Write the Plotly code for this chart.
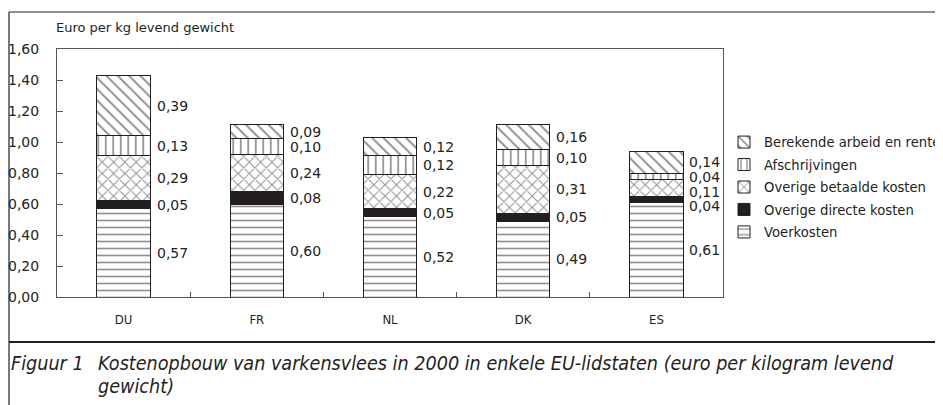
import plotly.graph_objects as go

countries = ["DU", "FR", "NL", "DK", "ES"]
voerkosten = [0.57, 0.60, 0.52, 0.49, 0.61]
overige_directe = [0.05, 0.08, 0.05, 0.05, 0.04]
overige_betaalde = [0.29, 0.24, 0.22, 0.31, 0.11]
afschrijvingen = [0.13, 0.10, 0.12, 0.10, 0.04]
berekende = [0.39, 0.09, 0.12, 0.16, 0.14]

series = [
    ("Voerkosten", voerkosten, "-", 7, "white", 5),
    ("Overige directe kosten", overige_directe, "", 8, "#231f20", 4),
    ("Overige betaalde kosten", overige_betaalde, "x", 8, "white", 3),
    ("Afschrijvingen", afschrijvingen, "|", 7.5, "white", 2),
    ("Berekende arbeid en rente", berekende, "\\", 8, "white", 1),
]

# page body has an 8px margin; the figure is drawn offset by it
OFF = 8
W, H = 943 - OFF, 405 - OFF
L, T = 57 - OFF, 49 - OFF
PW, PH = 723 - 57, 297 - 49
R, B = W - L - PW, H - T - PH


def px(x):
    return (x - OFF - L) / PW


def py(y):
    return (T + PH - (y - OFF)) / PH


ink = "#231f20"
fig = go.Figure()
for name, vals, shape, size, bg, rank in series:
    fig.add_trace(go.Bar(
        x=countries, y=vals, name=name, legendgroup=name, legendrank=rank,
        marker=dict(
            color=bg,
            line=dict(color=ink, width=1),
            pattern=dict(shape=shape, fgcolor=ink, bgcolor=bg,
                         size=size, solidity=0.23, fillmode="overlay"),
        ),
        hoverinfo="skip",
    ))

# value labels to the right of each segment, spread apart where crowded
annotations = []
min_gap = 0.095
for i, c in enumerate(countries):
    base = 0.0
    mids = []
    for name, vals, *_ in series:
        v = vals[i]
        mids.append((base + v / 2, v))
        base += v
    prev = None
    for mid, v in reversed(mids):
        yv = mid if prev is None else min(mid, prev - min_gap)
        prev = yv
        annotations.append(dict(
            x=c, y=yv, xref="x", yref="y", text=f"{v:.2f}".replace(".", ","),
            showarrow=False, xanchor="left", yanchor="middle", xshift=32,
            font=dict(family="DejaVu Sans", size=14, color=ink),
            borderpad=0,
        ))

annotations.append(dict(
    x=px(54), y=py(28), xref="paper", yref="paper", text="Euro per kg levend gewicht",
    showarrow=False, xanchor="left", yanchor="middle",
    font=dict(family="DejaVu Sans", size=13, color=ink),
))

cap_font = dict(family="DejaVu Sans Condensed, sans-serif", size=19.6, color=ink)
annotations.append(dict(
    x=px(10), y=py(364), xref="paper", yref="paper", text="<i>Figuur 1</i>",
    showarrow=False, xanchor="left", yanchor="middle", font=cap_font, borderpad=0,
))
annotations.append(dict(
    x=px(97), y=py(364), xref="paper", yref="paper",
    text="<i>Kostenopbouw van varkensvlees in 2000 in enkele EU-lidstaten (euro per kilogram levend</i>",
    showarrow=False, xanchor="left", yanchor="middle", font=cap_font, borderpad=0,
))
annotations.append(dict(
    x=px(97), y=py(386), xref="paper", yref="paper",
    text="<i>gewicht)</i>",
    showarrow=False, xanchor="left", yanchor="middle", font=cap_font, borderpad=0,
))

shapes = [
    dict(type="line", xref="paper", yref="paper", x0=px(9), x1=px(960), y0=py(12), y1=py(12),
         line=dict(color=ink, width=1.2)),
    dict(type="line", xref="paper", yref="paper", x0=px(9), x1=px(9), y0=py(12), y1=py(420),
         line=dict(color=ink, width=1.2)),
    dict(type="line", xref="paper", yref="paper", x0=px(9), x1=px(960), y0=py(342), y1=py(342),
         line=dict(color=ink, width=2.2)),
]

fig.update_layout(
    width=W, height=H,
    margin=dict(l=L, r=R, t=T, b=B, autoexpand=False),
    barmode="stack", bargap=0.6,
    separators=",.",
    paper_bgcolor="white", plot_bgcolor="white",
    showlegend=True,
    legend=dict(
        x=px(724), y=py(127), xanchor="left", yanchor="top",
        traceorder="grouped", tracegroupgap=2.3,
        font=dict(family="DejaVu Sans", size=13.2, color=ink),
        bgcolor="rgba(0,0,0,0)",
    ),
    xaxis=dict(
        showline=True, linecolor="#555555", linewidth=1, mirror=True,
        ticks="inside", tickson="boundaries", ticklen=5, tickcolor="#555555",
        tickfont=dict(family="DejaVu Sans Condensed", size=13, color=ink),
        ticklabelstandoff=10, showgrid=False, fixedrange=True,
    ),
    yaxis=dict(
        range=[0, 1.6], dtick=0.2, tickformat=".2f",
        showline=True, linecolor="#555555", linewidth=1, mirror=True,
        ticks="inside", ticklen=6, tickcolor="#555555",
        tickfont=dict(family="DejaVu Sans", size=14, color=ink),
        ticklabelstandoff=14, showgrid=False, zeroline=False, fixedrange=True,
    ),
    annotations=annotations,
    shapes=shapes,
)

fig.write_html("out.html")
